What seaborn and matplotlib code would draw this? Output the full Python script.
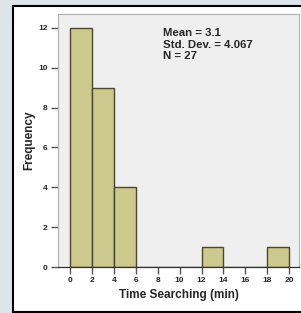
import matplotlib
matplotlib.use('Agg')
import matplotlib.pyplot as plt
import seaborn as sns
import numpy as np
from matplotlib.patches import Rectangle

# ── Datos del histograma ──────────────────────────────────
bin_edges = [0, 2, 4, 6, 8, 10, 12, 14, 16, 18, 20]
counts = [12, 9, 4, 0, 0, 0, 1, 0, 0, 1]
x_ticks = [0, 2, 4, 6, 8, 10, 12, 14, 16, 18, 20]
y_ticks = [0, 2, 4, 6, 8, 10, 12]
stats_text = "Mean = 3.1\nStd. Dev. = 4.067\nN = 27"

centers = [(a + b) / 2 for a, b in zip(bin_edges[:-1], bin_edges[1:])]

sns.set_style("white", {"xtick.bottom": True, "ytick.left": True})
plt.rcParams['font.family'] = ['Liberation Sans', 'DejaVu Sans']

fig = plt.figure(figsize=(3.01, 3.13), dpi=100)
fig.patch.set_facecolor('#dde4ea')

# panel blanco con borde negro
panel = Rectangle((13 / 301, 1 / 313), 300 / 301, 306 / 313,
                  transform=fig.transFigure, facecolor='white',
                  edgecolor='black', linewidth=1.5, zorder=-5)
fig.add_artist(panel)

ax = fig.add_axes([58 / 301, 46 / 313, 241 / 301, 253 / 313])
ax.set_zorder(2)
ax.set_facecolor('#efefef')

sns.histplot(x=centers, weights=counts, bins=bin_edges, ax=ax,
             color='#cdc88c', edgecolor='#4a4731', linewidth=1.0, alpha=1)

ax.set_xlim(-1.1, 20.9)
ax.set_ylim(0, 12.7)
ax.set_xticks(x_ticks)
ax.set_yticks(y_ticks)
ax.tick_params(axis='both', which='major', bottom=True, left=True,
               labelsize=6, length=5, width=1.0, color='#555555',
               direction='out', pad=2.5)
for lab in ax.get_xticklabels() + ax.get_yticklabels():
    lab.set_fontweight('bold')

for side in ['top', 'right', 'left']:
    ax.spines[side].set_color('#b0b0b0')
    ax.spines[side].set_linewidth(0.8)
ax.spines['bottom'].set_color('#333333')
ax.spines['bottom'].set_linewidth(0.9)

ax.set_xlabel("Time Searching (min)", fontsize=8.5, fontweight='bold', labelpad=3)
ax.set_ylabel("Frequency", fontsize=8.5, fontweight='bold', labelpad=2)

ax.text(0.435, 0.945, stats_text, transform=ax.transAxes, fontsize=8.2,
        fontweight='bold', va='top', ha='left', linespacing=1.2)

plt.savefig("out.png", dpi=100, facecolor=fig.get_facecolor())
plt.close()
